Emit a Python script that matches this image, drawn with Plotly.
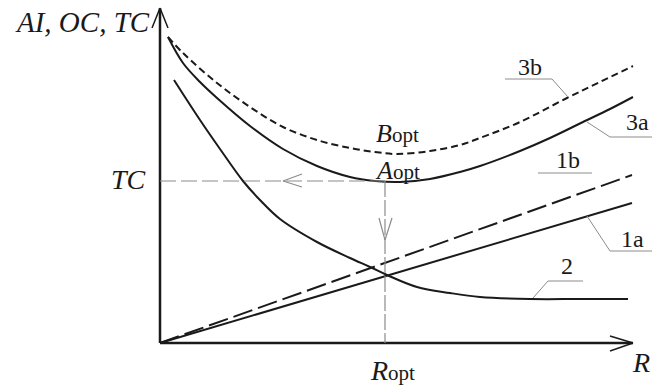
import plotly.graph_objects as go

# ---- data (arbitrary units: R to the right, costs upward) ----
r_curve2 = [14, 40, 60, 83, 100, 120, 157, 190, 210, 227, 257, 290, 320, 370, 420, 468]
c_curve2 = [263, 223, 194, 162, 143, 124, 101, 85, 76, 68, 56, 50, 46, 44, 44, 44]

r_line1 = [0, 472]
c_line1a = [0, 140]
c_line1b = [0, 168]

r_curve3a = [8, 23, 40, 57, 90, 123, 157, 190, 215, 240, 270, 300, 320, 360, 390, 423, 450, 473]
c_curve3a = [306, 280, 261, 245, 217, 194, 177, 166, 162, 161, 164, 171, 177, 192, 205, 221, 234, 246]

r_curve3b = [8, 23, 57, 90, 123, 157, 190, 215, 237, 270, 300, 320, 360, 407, 440, 473]
c_curve3b = [306, 290, 260, 236, 216, 203, 195, 191, 189, 192, 198, 205, 221, 245, 261, 277]

r_opt = 225
tc_level = 162
r_max = 473
c_max = 335

BLACK = "#1a1a1a"
GRAY = "#8c8c8c"
SERIF = "Liberation Serif"

fig = go.Figure()

fig.add_trace(go.Scatter(x=r_curve3b, y=c_curve3b, mode="lines", line=dict(color=BLACK, width=2, dash="7px,4px", shape="spline")))
fig.add_trace(go.Scatter(x=r_curve3a, y=c_curve3a, mode="lines", line=dict(color=BLACK, width=2, shape="spline")))
fig.add_trace(go.Scatter(x=r_line1, y=c_line1b, mode="lines", line=dict(color=BLACK, width=2, dash="20px,6px")))
fig.add_trace(go.Scatter(x=r_line1, y=c_line1a, mode="lines", line=dict(color=BLACK, width=2)))
fig.add_trace(go.Scatter(x=r_curve2, y=c_curve2, mode="lines", line=dict(color=BLACK, width=2, shape="spline")))

shapes = []
def seg(x0, y0, x1, y1, color=BLACK, width=2, dash="solid"):
    shapes.append(dict(type="line", xref="x", yref="y", x0=x0, y0=y0, x1=x1, y1=y1,
                       line=dict(color=color, width=width, dash=dash)))

# axes with open arrowheads
seg(0, 0, r_max, 0, width=2.5)
seg(r_max, 0, r_max - 23, 7, width=1.5)
seg(r_max, 0, r_max - 23, -8, width=1.5)
seg(0, 0, 0, c_max, width=2.5)
seg(0, c_max, -8, c_max - 20, width=1.5)
seg(0, c_max, 8, c_max - 20, width=1.5)

# optimum reference lines
seg(0, tc_level, r_opt, tc_level, color=GRAY, width=1.2, dash="16px,5px")
seg(123, tc_level, 142, tc_level + 7, color=GRAY, width=1.2)
seg(123, tc_level, 142, tc_level - 6, color=GRAY, width=1.2)
seg(r_opt, tc_level, r_opt, 0, color=GRAY, width=1.2, dash="16px,3px")
seg(r_opt, 103, r_opt - 6, 125, color=GRAY, width=1.2)
seg(r_opt, 103, r_opt + 7, 125, color=GRAY, width=1.2)

# label leaders
seg(345, 264, 392, 264, color=GRAY, width=1)
seg(392, 264, 408, 246, color=GRAY, width=1)
seg(427, 221, 450, 206, color=GRAY, width=1)
seg(450, 206, 492, 206, color=GRAY, width=1)
seg(378, 170, 432, 170, color=GRAY, width=1)
seg(427, 127, 450, 92, color=GRAY, width=1)
seg(450, 92, 492, 92, color=GRAY, width=1)
seg(373, 45, 388, 62, color=GRAY, width=1)
seg(388, 62, 423, 62, color=GRAY, width=1)

ann = []
def txt(x, y, s, size=24):
    ann.append(dict(x=x, y=y, xref="x", yref="y", text=s, showarrow=False,
                    xanchor="center", yanchor="middle",
                    font=dict(family=SERIF, size=size, color=BLACK)))

SUB = "<span style='font-size:21px'>opt</span>"
txt(-78, 321, "<i>AI, OC, TC</i>", 29)
txt(-32, 164, "<i>TC</i>", 28)
txt(237, 210, "<i>B</i>" + SUB, 26)
txt(237, 173, "<i>A</i>" + SUB, 26)
txt(232, -27, "<i>R</i>" + SUB, 28)
txt(481, -19, "<i>R</i>", 28)
txt(370, 276, "3b", 24)
txt(477, 221, "3a", 24)
txt(408, 183, "1b", 24)
txt(472, 104, "1a", 24)
txt(407, 77, "2", 24)

fig.update_layout(
    width=652, height=387,
    margin=dict(l=0, r=0, t=0, b=0),
    paper_bgcolor="white", plot_bgcolor="white",
    showlegend=False,
    xaxis=dict(range=[-160, 492], visible=False, fixedrange=True),
    yaxis=dict(range=[-44, 343], visible=False, fixedrange=True),
    shapes=shapes,
    annotations=ann,
)

fig.write_html(
    "out.html",
    config=dict(displayModeBar=False, staticPlot=True),
    post_script="document.body.style.margin='0';document.body.style.overflow='hidden';",
)
